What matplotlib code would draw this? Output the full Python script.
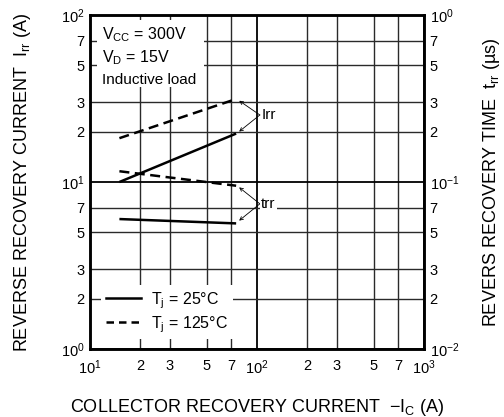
import math
import matplotlib
matplotlib.use('Agg')
import matplotlib.pyplot as plt
from matplotlib.ticker import LogLocator, FuncFormatter
from matplotlib.patches import Rectangle

plt.rcParams['font.family'] = ['Liberation Sans', 'DejaVu Sans']
plt.rcParams['mathtext.fontset'] = 'custom'
plt.rcParams['mathtext.rm'] = 'Liberation Sans'
plt.rcParams['mathtext.it'] = 'Liberation Sans:italic'
plt.rcParams['mathtext.bf'] = 'Liberation Sans:bold'

# data
ic = [15, 75]                      # -Ic (A)
irr_25 = [10.0, 19.5]              # Irr (A), Tj = 25C
irr_125 = [18.3, 31.4]             # Irr (A), Tj = 125C
trr_25 = [0.060, 0.0565]           # trr (us), Tj = 25C
trr_125 = [0.116, 0.095]           # trr (us), Tj = 125C

minor_subs = [2, 3, 5, 7]

fig = plt.figure(figsize=(5.04, 4.17), dpi=100)
ax = fig.add_axes([90/504, 68/417, 334/504, 334/417])
ax2 = ax.twinx()

ax.set_xscale('log')
ax.set_yscale('log')
ax2.set_yscale('log')
ax.set_xlim(10, 1000)
ax.set_ylim(1, 100)
ax2.set_ylim(0.01, 1)


def dec_fmt(v, pos):
    e = int(round(math.log10(v)))
    return r'$10^{%d}$' % e


def minor_fmt(v, pos):
    m = v / 10 ** math.floor(math.log10(v) + 1e-9)
    return '%d' % round(m)


for axis in [ax.xaxis, ax.yaxis, ax2.yaxis]:
    axis.set_major_locator(LogLocator(base=10, numticks=10))
    axis.set_minor_locator(LogLocator(base=10, subs=minor_subs, numticks=10))
    axis.set_major_formatter(FuncFormatter(dec_fmt))
    axis.set_minor_formatter(FuncFormatter(minor_fmt))

ax.tick_params(which='both', length=0, labelsize=10.5, pad=4)
ax2.tick_params(which='both', length=0, labelsize=10.5, pad=4)
ax.xaxis.set_tick_params(which='both', pad=7)

ax.grid(True, which='major', color='black', lw=1.3)
ax.grid(True, which='minor', color='#2a2a2a', lw=1.0)
ax.set_axisbelow(True)

for s in ax.spines.values():
    s.set_linewidth(1.8)
for s in ax2.spines.values():
    s.set_linewidth(1.8)

# curves
ax.plot(ic, irr_25, color='black', lw=1.8, solid_capstyle='butt', zorder=4)
ax.plot(ic, irr_125, color='black', lw=1.8, dashes=(4, 2.2), zorder=4)
ax2.plot(ic, trr_25, color='black', lw=1.8, solid_capstyle='butt', zorder=4)
ax2.plot(ic, trr_125, color='black', lw=1.8, dashes=(4, 2.2), zorder=4)

# condition box
ax.add_patch(Rectangle((0.021, 0.785), 0.32, 0.2, transform=ax.transAxes,
                       facecolor='white', edgecolor='none', zorder=3))
ax.text(0.036, 0.94, r'V$_{\mathregular{CC}}$ = 300V', transform=ax.transAxes,
        fontsize=11.5, va='center', ha='left', zorder=5)
ax.text(0.036, 0.872, r'V$_{\mathregular{D}}$ = 15V', transform=ax.transAxes,
        fontsize=11.5, va='center', ha='left', zorder=5)
ax.text(0.036, 0.805, 'Inductive load', transform=ax.transAxes,
        fontsize=11, va='center', ha='left', zorder=5)

# annotations
arr = dict(arrowstyle='->', lw=0.6, color='black', shrinkA=0, shrinkB=1,
           mutation_scale=6)
tip_irr = (104, 25.2)
ax.annotate('', xy=(77, 31.0), xytext=tip_irr, arrowprops=arr, zorder=5)
ax.annotate('', xy=(77, 19.8), xytext=tip_irr, arrowprops=arr, zorder=5)
ax.text(106, 25.2, 'Irr', fontsize=11, va='center', ha='left', zorder=5)

tip_trr = (104, 7.4)
ax.annotate('', xy=(77, 9.4), xytext=tip_trr, arrowprops=arr, zorder=5)
ax.annotate('', xy=(77, 5.8), xytext=tip_trr, arrowprops=arr, zorder=5)
ax.text(106, 7.4, 'trr', fontsize=11, va='center', ha='left', zorder=5,
        bbox=dict(facecolor='white', edgecolor='none', pad=1))

# legend
leg = ax.legend(handles=[
    plt.Line2D([], [], color='black', lw=1.8),
    plt.Line2D([], [], color='black', lw=1.8, dashes=(3, 2)),
], labels=[r'T$_{\mathregular{j}}$ = 25°C', r'T$_{\mathregular{j}}$ = 125°C'],
    loc='lower left', bbox_to_anchor=(0.01, 0.005), fontsize=11.5,
    frameon=True, fancybox=False, edgecolor='none', framealpha=1,
    handlelength=2.2, handletextpad=0.6, labelspacing=0.2, borderpad=0.3)
leg.set_zorder(6)

ax.set_xlabel(r'COLLECTOR RECOVERY CURRENT  $-$I$\mathregular{_C}$ (A)',
              fontsize=13, labelpad=14)
ax.set_ylabel(r'REVERSE RECOVERY CURRENT  I$\mathregular{_{rr}}$ (A)',
              fontsize=13, labelpad=20)
ax2.set_ylabel('REVERS RECOVERY TIME  t$\\mathregular{_{rr}}$ (µs)',
               fontsize=13, labelpad=16)

fig.savefig('out.png', dpi=100)
